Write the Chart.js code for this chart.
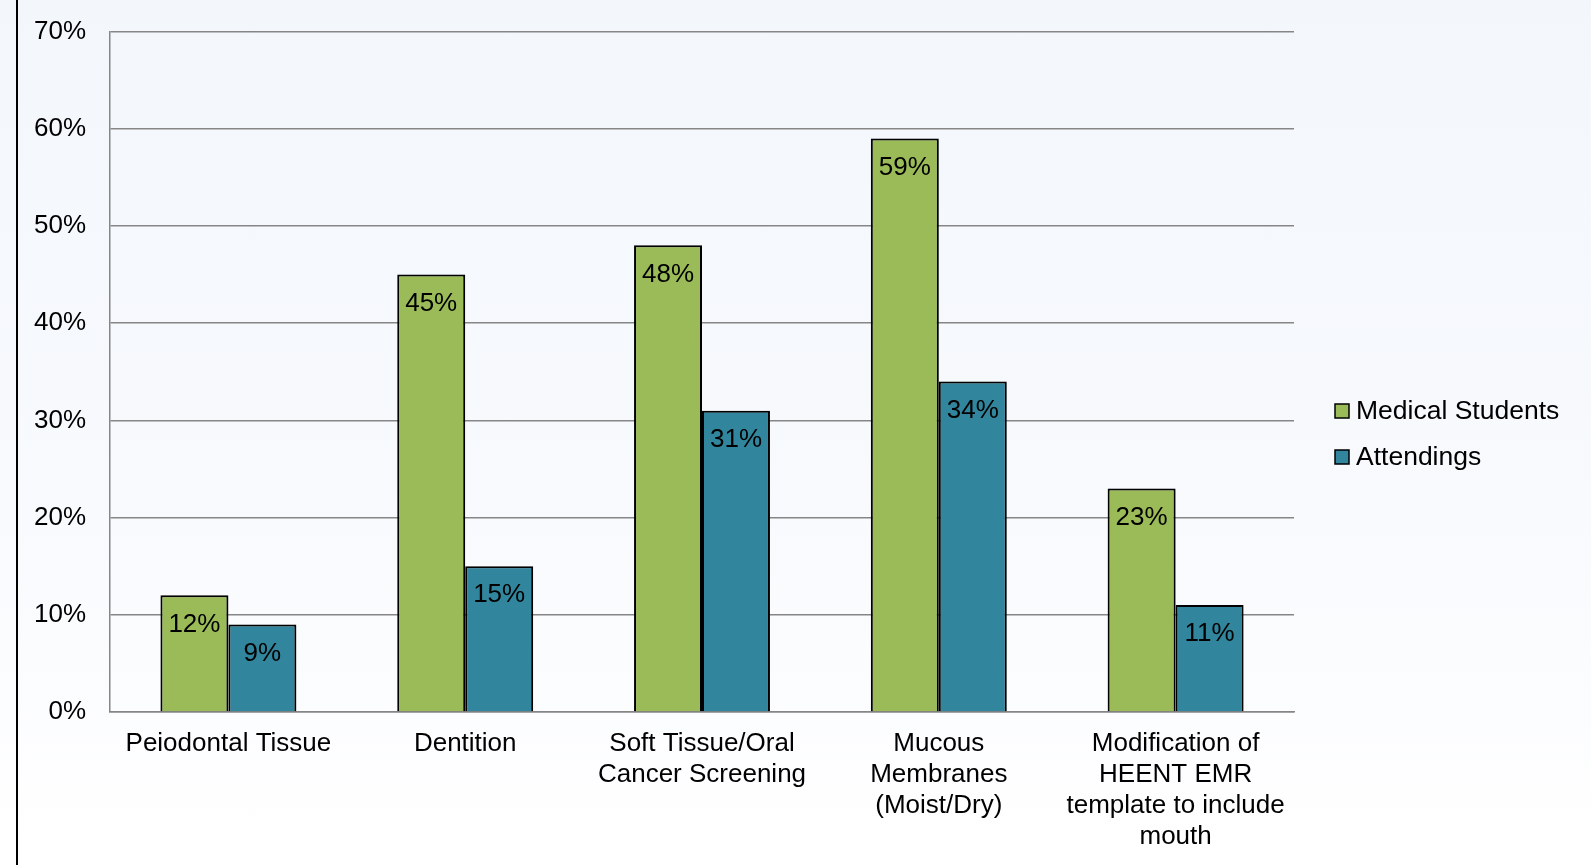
<!DOCTYPE html>
<html>
<head>
<meta charset="utf-8">
<script src="https://cdn.jsdelivr.net/npm/chart.js@4/dist/chart.umd.min.js"></script>
<style>
  html, body { margin: 0; padding: 0; }
  body { width: 1591px; height: 865px; background: linear-gradient(to bottom, #f3f7fc 0%, #f8fafd 60%, #ffffff 100%); overflow: hidden; }
  #wrap { position: relative; width: 1591px; height: 865px; }
</style>
</head>
<body>
<div id="wrap"><canvas id="c" width="1591" height="865"></canvas></div>
<script>
const categories = [
  "Peiodontal Tissue",
  "Dentition",
  ["Soft Tissue/Oral", "Cancer Screening"],
  ["Mucous", "Membranes", "(Moist/Dry)"],
  ["Modification of", "HEENT EMR", "template to include", "mouth"]
];
const seriesNames = ["Medical Students", "Attendings"];
const medicalStudents = [12, 45, 48, 59, 23];
const attendings = [9, 15, 31, 34, 11];
const seriesColors = ["#9bbb59", "#31859c"];
const yTicks = [0, 10, 20, 30, 40, 50, 60, 70];

const FONT = "'Liberation Sans', Arial, sans-serif";

const framePlugin = {
  id: 'frame',
  beforeDraw(chart) {
    const ctx = chart.ctx;
    ctx.save();
    ctx.fillStyle = '#000';
    ctx.fillRect(16, 0, 2, chart.height);
    ctx.restore();
  },
  beforeDatasetsDraw(chart) {
    const ctx = chart.ctx;
    ctx.save();
    ctx.shadowColor = 'rgba(0,0,0,0.25)';
    ctx.shadowBlur = 3;
    ctx.shadowOffsetX = 1;
    ctx.shadowOffsetY = 1;
  },
  afterDatasetsDraw(chart) {
    const ctx = chart.ctx;
    ctx.restore();
    ctx.save();
    ctx.fillStyle = '#000';
    ctx.font = '26px ' + FONT;
    ctx.textAlign = 'center';
    ctx.textBaseline = 'middle';
    chart.data.datasets.forEach((ds, i) => {
      const meta = chart.getDatasetMeta(i);
      meta.data.forEach((bar, j) => {
        ctx.fillText(ds.data[j] + '%', bar.x, bar.y + 29);
      });
    });
    // legend
    ctx.font = '26.5px ' + FONT;
    const lx = 1335, ly = [411, 457];
    chart.data.datasets.forEach((ds, i) => {
      ctx.fillStyle = ds.backgroundColor;
      ctx.fillRect(lx, ly[i] - 7, 14, 14);
      ctx.strokeStyle = '#000';
      ctx.lineWidth = 1.5;
      ctx.strokeRect(lx, ly[i] - 7, 14, 14);
      ctx.fillStyle = '#000';
      ctx.textAlign = 'left';
      ctx.fillText(ds.label, lx + 21, ly[i] + 1);
    });
    ctx.restore();
  }
};

new Chart(document.getElementById('c'), {
  type: 'bar',
  data: {
    labels: categories,
    datasets: [
      { label: seriesNames[0], data: medicalStudents, backgroundColor: seriesColors[0], borderColor: '#000', borderWidth: 2 },
      { label: seriesNames[1], data: attendings, backgroundColor: seriesColors[1], borderColor: '#000', borderWidth: 2 }
    ]
  },
  options: {
    responsive: false,
    animation: false,
    devicePixelRatio: 1,
    layout: { padding: { left: 0, top: 31.5, right: 297, bottom: 0 } },
    plugins: { legend: { display: false }, tooltip: { enabled: false } },
    datasets: { bar: { categoryPercentage: 0.574, barPercentage: 1.0 } },
    scales: {
      x: {
        grid: { display: false, drawTicks: false },
        border: { display: true, color: '#868686', width: 1.5 },
        ticks: { color: '#000', font: { family: FONT, size: 26 }, padding: 16, maxRotation: 0, autoSkip: false },
        afterFit(s) { s.height = 153; }
      },
      y: {
        min: 0, max: 70,
        afterBuildTicks(s) { s.ticks = yTicks.map(v => ({ value: v })); },
        grid: { color: '#868686', lineWidth: 1.5, drawTicks: false },
        border: { display: true, color: '#868686', width: 1.5 },
        ticks: { color: '#000', font: { family: FONT, size: 26 }, padding: 24, callback: v => v + '%' },
        afterFit(s) { s.width = 110; s.paddingTop = 0; s.paddingBottom = 0; }
      }
    }
  },
  plugins: [framePlugin]
});
</script>
</body>
</html>
